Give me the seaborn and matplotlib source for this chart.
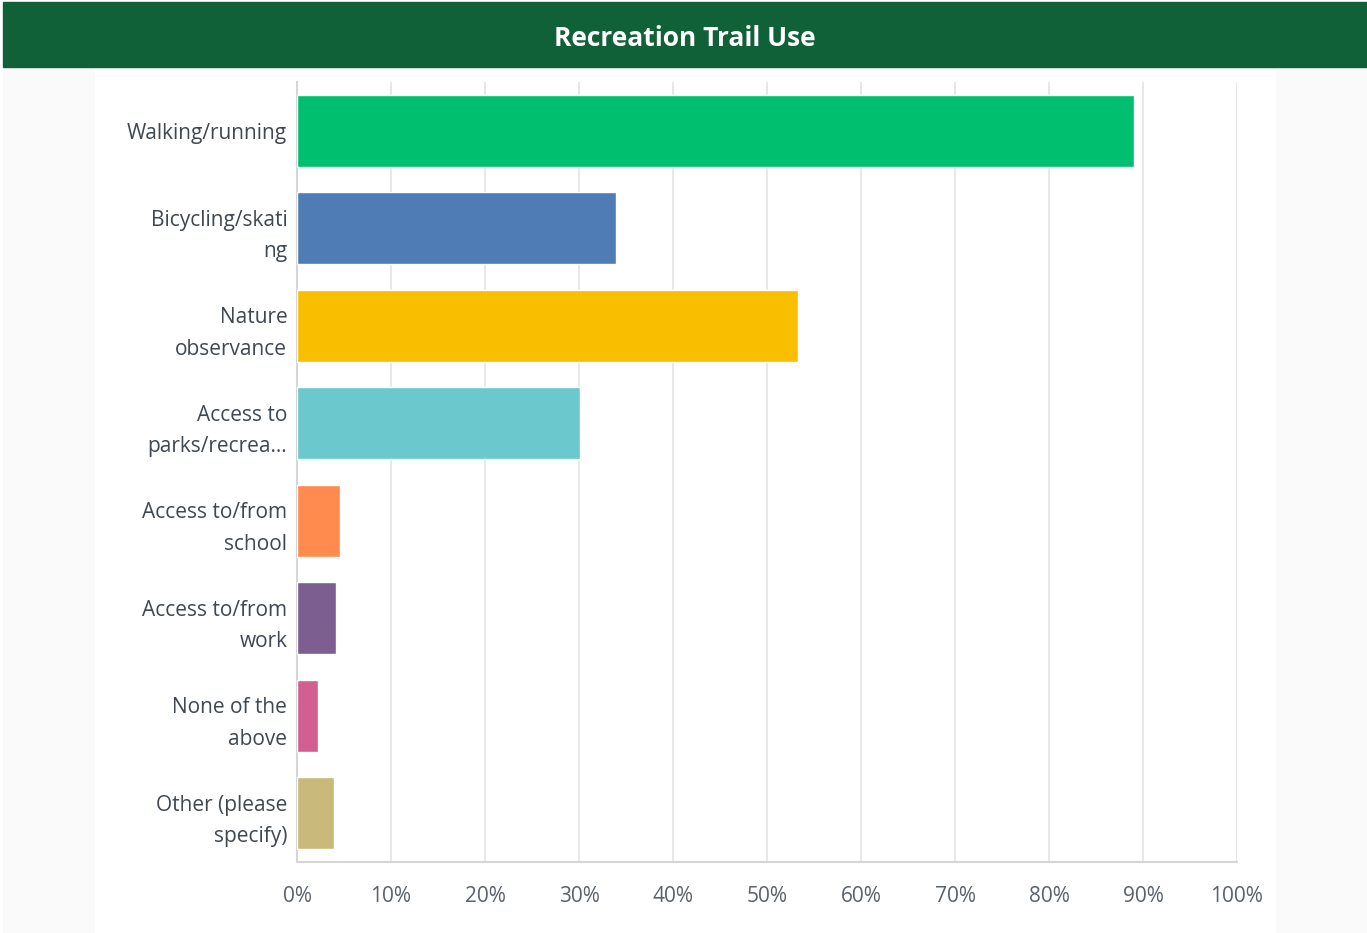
import matplotlib
matplotlib.use("Agg")
import matplotlib.pyplot as plt
import pandas as pd
import seaborn as sns
from matplotlib.patches import Rectangle
from matplotlib.ticker import FuncFormatter

# data
categories = ["Walking/running", "Bicycling/skati\nng", "Nature\nobservance",
              "Access to\nparks/recrea...", "Access to/from\nschool",
              "Access to/from\nwork", "None of the\nabove", "Other (please\nspecify)"]
percents = [89.0, 33.9, 53.3, 30.1, 4.6, 4.1, 2.2, 3.9]
bar_colors = ["#00BF6F", "#507CB6", "#F9BE00", "#6BC8CD",
              "#FF8B4F", "#7D5E90", "#D25F90", "#C9B97A"]
ticks = list(range(0, 101, 10))

df = pd.DataFrame({"use": categories, "pct": percents})

sns.set_style("white")
plt.rcParams["font.family"] = ["Open Sans", "DejaVu Sans"]

W, H = 1367, 933
fig = plt.figure(figsize=(W / 100, H / 100), dpi=100)
fig.patch.set_facecolor("white")

# page background, white panel and title banner
fig.patches.append(Rectangle((3 / W, 0), 1 - 3 / W, (H - 67) / H,
                             transform=fig.transFigure, color="#fafafa", zorder=-10))
fig.patches.append(Rectangle((95 / W, 0), (1275 - 95) / W, (H - 70) / H,
                             transform=fig.transFigure, color="white", zorder=-9))
fig.patches.append(Rectangle((3 / W, (H - 67) / H), 1 - 3 / W, 65 / H,
                             transform=fig.transFigure, color="#106138", zorder=-8))
fig.text((3 + W) / 2 / W, (H - 38) / H, "Recreation Trail Use", color="white",
         fontsize=19, fontweight="bold", ha="center", va="center")

ax = fig.add_axes([297 / W, (H - 862) / H, (1237 - 297) / W, (862 - 82) / H])
sns.barplot(data=df, x="pct", y="use", hue="use", palette=bar_colors,
            legend=False, width=0.74, saturation=1, ax=ax, zorder=3)

ax.set_xlim(0, 100)
ax.set_xticks(ticks)
ax.xaxis.set_major_formatter(FuncFormatter(lambda v, p: f"{int(v)}%"))
ax.set_xlabel("")
ax.set_ylabel("")
ax.grid(axis="x", color="#e6e6e6", linewidth=1.3, zorder=0)
ax.set_axisbelow(True)
for side in ["top", "right"]:
    ax.spines[side].set_visible(False)
for side in ["left", "bottom"]:
    ax.spines[side].set_color("#d6d6d6")
    ax.spines[side].set_linewidth(1.5)
ax.tick_params(axis="x", length=0, pad=17, labelsize=15, labelcolor="#5a6169")
ax.tick_params(axis="y", length=0, pad=7, labelsize=15, labelcolor="#3f4850")
for lbl in ax.get_yticklabels():
    lbl.set_horizontalalignment("right")
    lbl.set_multialignment("right")
    lbl.set_linespacing(1.65)

fig.savefig("out.png", dpi=100)
